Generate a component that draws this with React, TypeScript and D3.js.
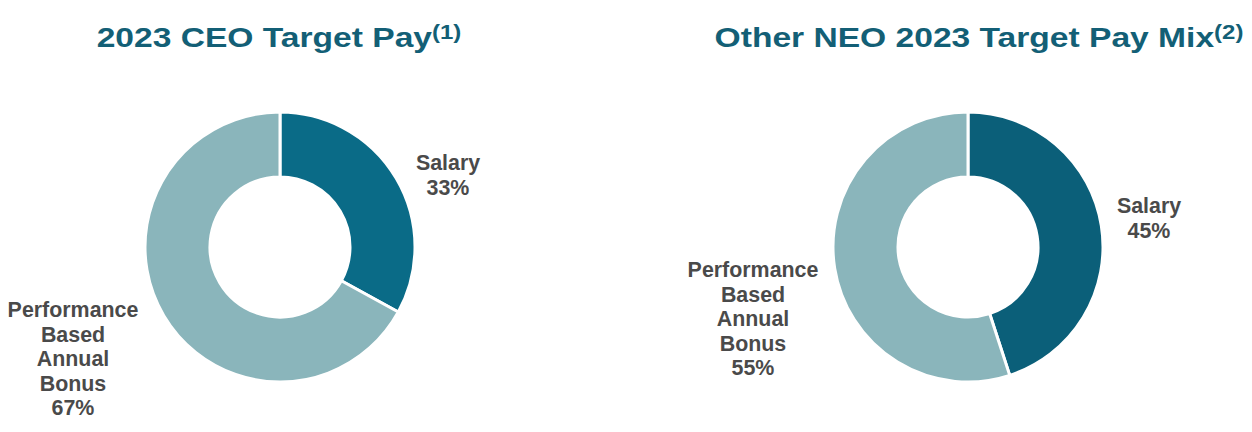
import React from "react";
import * as d3 from "d3";

const categories = ["Salary", "Performance Based Annual Bonus"];
const ceoValues = [33, 67];
const neoValues = [45, 55];
const chartTitles = ["2023 CEO Target Pay", "Other NEO 2023 Target Pay Mix"];
const titleNotes = ["(1)", "(2)"];

const W = 1252;
const H = 432;
const TITLE_COLOR = "#135f76";
const LABEL_COLOR = "#4a4a4a";
const LIGHT = "#8ab5bb";
const FONT = "'Liberation Sans', Arial, sans-serif";

type DonutProps = {
  cx: number;
  cy: number;
  values: number[];
  dark: string;
  title: string;
  note: string;
  titleX: number;
  salaryLabel: { x: number; y: number };
  bonusLabel: { x: number; y: number };
};

function Donut({ cx, cy, values, dark, title, note, titleX, salaryLabel, bonusLabel }: DonutProps) {
  const pie = d3.pie<number>().sort(null).value((d) => d);
  const arcs = pie(values);
  const arc = d3.arc<d3.PieArcDatum<number>>().innerRadius(70).outerRadius(135);
  const colors = [dark, LIGHT];
  const lh = 24.6;
  const salaryLines = [categories[0], `${values[0]}%`];
  const bonusLines = [...categories[1].split(" ").slice(0, 2).slice(0, 1), "Based", "Annual", "Bonus", `${values[1]}%`];
  return (
    <g>
      <g transform={`translate(${titleX},47) scale(1.2,1)`}>
        <text x={0} y={0} fontFamily={FONT} fontWeight="bold" fontSize={28} fill={TITLE_COLOR} textAnchor="middle">
          {title}
          <tspan fontSize={20} dy={-8}>{note}</tspan>
        </text>
      </g>
      <g transform={`translate(${cx},${cy})`}>
        {arcs.map((a, i) => (
          <path key={i} d={arc(a) || ""} fill={colors[i]} stroke="#fff" strokeWidth={3} />
        ))}
      </g>
      <text fontFamily={FONT} fontWeight="bold" fontSize={21.4} fill={LABEL_COLOR} textAnchor="middle">
        {salaryLines.map((l, i) => (
          <tspan key={i} x={salaryLabel.x} y={salaryLabel.y + i * lh}>{l}</tspan>
        ))}
      </text>
      <text fontFamily={FONT} fontWeight="bold" fontSize={21.4} fill={LABEL_COLOR} textAnchor="middle">
        {bonusLines.map((l, i) => (
          <tspan key={i} x={bonusLabel.x} y={bonusLabel.y + i * lh}>{l}</tspan>
        ))}
      </text>
    </g>
  );
}

export default function App() {
  return (
    <svg width={W} height={H} style={{ position: "absolute", left: 0, top: 0, background: "#fff" }}>
      <rect width={W} height={H} fill="#fff" />
      <Donut
        cx={280}
        cy={247}
        values={ceoValues}
        dark="#0a6b87"
        title={chartTitles[0]}
        note={titleNotes[0]}
        titleX={279}
        salaryLabel={{ x: 448, y: 170 }}
        bonusLabel={{ x: 73, y: 317 }}
      />
      <Donut
        cx={968}
        cy={247}
        values={neoValues}
        dark="#0b5f79"
        title={chartTitles[1]}
        note={titleNotes[1]}
        titleX={979}
        salaryLabel={{ x: 1149, y: 213 }}
        bonusLabel={{ x: 753, y: 277 }}
      />
    </svg>
  );
}
